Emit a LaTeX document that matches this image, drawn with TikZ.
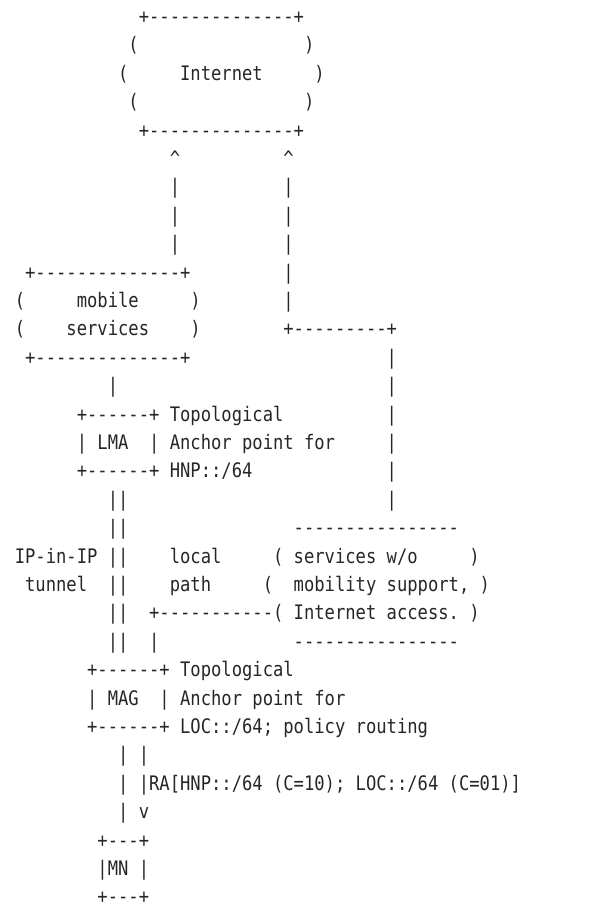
\documentclass[tikz,border=0pt]{standalone}
\usepackage{fontspec}
\setmonofont{DejaVu Sans Mono}[FakeStretch=0.858]
\tikzset{art/.style={anchor=base west, inner sep=0pt, outer sep=0pt, text=black!85,
  font=\ttfamily\fontsize{20}{24}\selectfont}}
\newcommand\artseg[4]{\node[art] (#1) at ({14.83+10.33*#2},{23.5+28.4*(#3-1)}) {#4};}
\begin{document}
\begin{tikzpicture}[x=1pt,y=-1pt]
\useasboundingbox (0,0) rectangle (615,907);
% Internet cloud
\artseg{l1a}{12}{1}{+--------------+}
\artseg{l2a}{11}{2}{(}
\artseg{l2b}{28}{2}{)}
\artseg{l3a}{10}{3}{(}
\artseg{inet}{16}{3}{Internet}
\artseg{l3c}{29}{3}{)}
\artseg{l4a}{11}{4}{(}
\artseg{l4b}{28}{4}{)}
\artseg{l5a}{12}{5}{+--------------+}
% arrows up
\artseg{l6a}{15}{6}{\textasciicircum}
\artseg{l6b}{26}{6}{\textasciicircum}
\artseg{l7a}{15}{7}{|}
\artseg{l7b}{26}{7}{|}
\artseg{l8a}{15}{8}{|}
\artseg{l8b}{26}{8}{|}
\artseg{l9a}{15}{9}{|}
\artseg{l9b}{26}{9}{|}
% mobile services
\artseg{l10a}{1}{10}{+--------------+}
\artseg{l10b}{26}{10}{|}
\artseg{l11a}{0}{11}{(}
\artseg{mob}{6}{11}{mobile}
\artseg{l11c}{17}{11}{)}
\artseg{l11d}{26}{11}{|}
\artseg{l12a}{0}{12}{(}
\artseg{serv}{5}{12}{services}
\artseg{l12c}{17}{12}{)}
\artseg{l12d}{26}{12}{+---------+}
\artseg{l13a}{1}{13}{+--------------+}
\artseg{l13b}{36}{13}{|}
\artseg{l14a}{9}{14}{|}
\artseg{l14b}{36}{14}{|}
% LMA
\artseg{l15a}{6}{15}{+------+ Topological}
\artseg{l15b}{36}{15}{|}
\artseg{lma}{6}{16}{| LMA}
\artseg{l16b}{13}{16}{| Anchor point for}
\artseg{l16c}{36}{16}{|}
\artseg{l17a}{6}{17}{+------+ HNP::/64}
\artseg{l17b}{36}{17}{|}
\artseg{l18a}{9}{18}{||}
\artseg{l18b}{36}{18}{|}
% tunnel and local services
\artseg{l19a}{9}{19}{||}
\artseg{l19b}{27}{19}{----------------}
\artseg{l20a}{0}{20}{IP-in-IP ||}
\artseg{l20b}{15}{20}{local}
\artseg{l20c}{25}{20}{( services w/o}
\artseg{l20d}{44}{20}{)}
\artseg{l21a}{1}{21}{tunnel}
\artseg{l21b}{9}{21}{||}
\artseg{l21c}{15}{21}{path}
\artseg{l21d}{24}{21}{(}
\artseg{l21e}{27}{21}{mobility support, )}
\artseg{l22a}{9}{22}{||}
\artseg{l22b}{13}{22}{+-----------( Internet access. )}
\artseg{l23a}{9}{23}{||}
\artseg{l23b}{13}{23}{|}
\artseg{l23c}{27}{23}{----------------}
% MAG
\artseg{l24a}{7}{24}{+------+ Topological}
\artseg{mag}{7}{25}{| MAG}
\artseg{l25b}{14}{25}{| Anchor point for}
\artseg{l26a}{7}{26}{+------+ LOC::/64; policy routing}
\artseg{l27a}{10}{27}{| |}
\artseg{l28a}{10}{28}{| |RA[HNP::/64 (C=10); LOC::/64 (C=01)]}
\artseg{l29a}{10}{29}{| v}
% MN
\artseg{l30a}{8}{30}{+---+}
\artseg{mn}{8}{31}{|MN |}
\artseg{l32a}{8}{32}{+---+}
\end{tikzpicture}
\end{document}
